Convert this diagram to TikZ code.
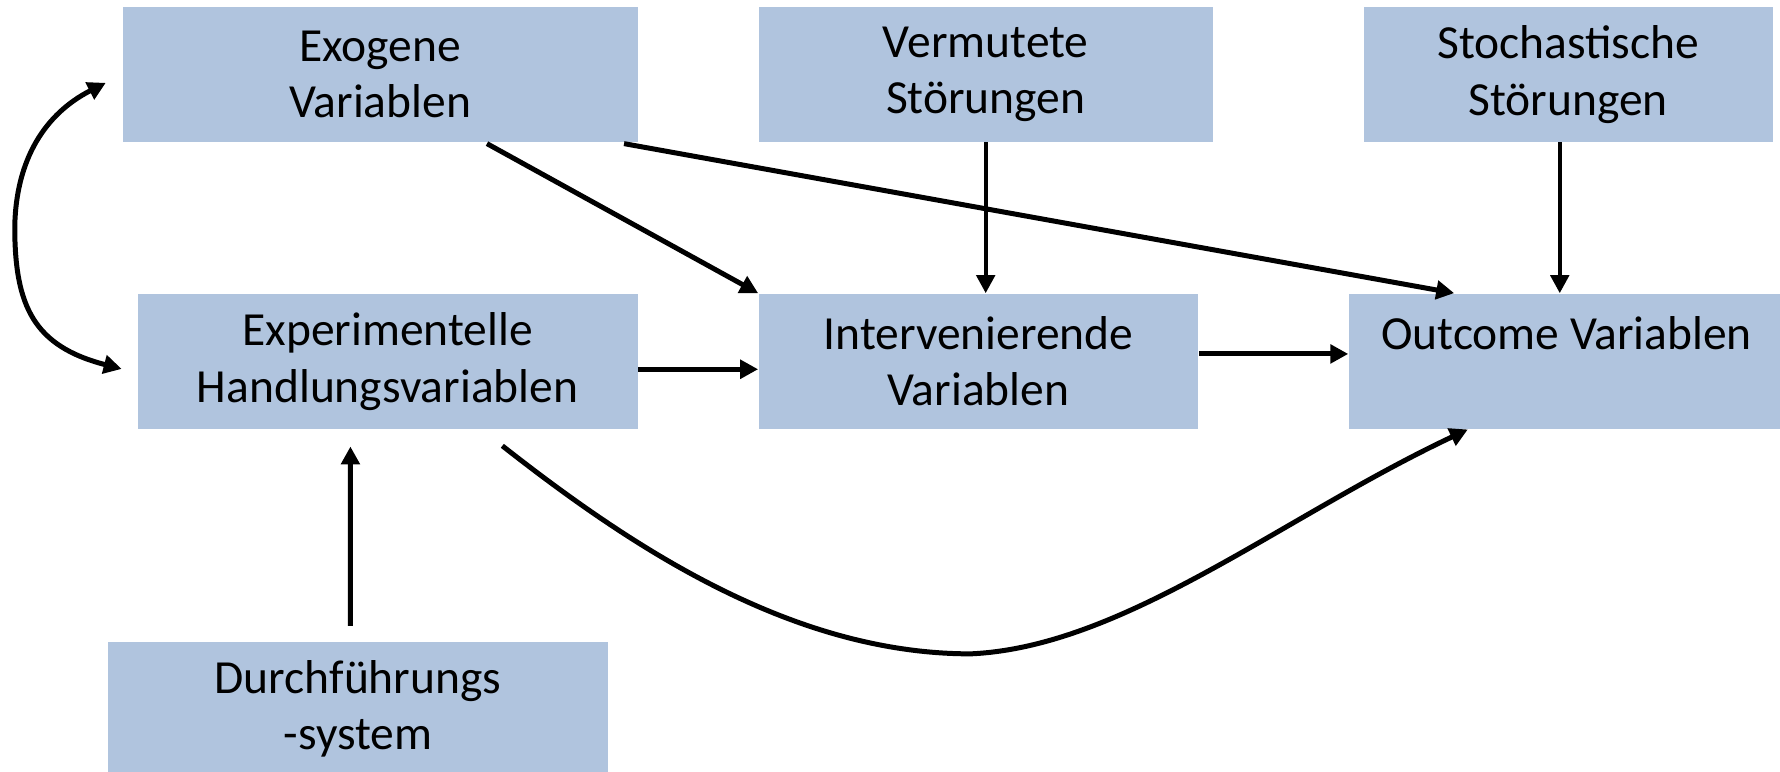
\documentclass[tikz,border=0pt]{standalone}
\usepackage{fontspec}
\setmainfont{Carlito}
\usetikzlibrary{arrows.meta,calc}
\definecolor{boxfill}{RGB}{176,196,222}
\tikzset{
  vbox/.style={fill=boxfill, draw=none, inner sep=0pt, minimum height=1.186cm,
    align=center, font=\fontsize{11.9pt}{14.2pt}\selectfont},
  arr/.style={-{Triangle[length=4.5pt,width=4.6pt]}, line width=1.25pt, black},
  thinarr/.style={arr, line width=0.95pt},
  dblarr/.style={{Triangle[length=4.5pt,width=4.6pt]}-{Triangle[length=4.5pt,width=4.6pt]}, line width=1.25pt, black}
}
\begin{document}
\begin{tikzpicture}[x=0.01cm,y=-0.01cm]
\useasboundingbox (0,0) rectangle (1568,680);
% boxes
\node[vbox, minimum width=4.53cm]  (exo)   at (335,65.5)   {Exogene\\Variablen};
\node[vbox, minimum width=3.994cm] (verm)  at (868.3,65.5) {Vermutete\\Störungen};
\node[vbox, minimum width=3.60cm]  (stoch) at (1381.5,65.5){Stochastische\\Störungen};
\node[vbox, minimum width=4.40cm]  (exp)   at (341.5,318.3){Experimentelle\\Handlungsvariablen};
\node[vbox, minimum width=3.867cm] (int)   at (862,318.3)  {Intervenierende\\Variablen};
\node[vbox, minimum width=3.83cm]  (out)   at (1380,318.3) {Outcome Variablen\\\phantom{V}};
\node[vbox, minimum width=4.404cm, minimum height=1.18cm] (durch) at (315.4,624.5) {Durchführungs\\-system};
% connectors
\draw[arr] ([shift={(0,7)}]exp.east) -- ([shift={(0,7)}]int.west);
\draw[arr] ([shift={(0,-6.5)}]int.east) -- ([shift={(0,-6.5)}]out.west);
\draw[arr] ([shift={(94,1)}]exo.south) -- (int.north west);
\draw[arr] ([shift={(-12.6,1)}]exo.south east) -- ([shift={(-99,0)}]out.north);
\draw[thinarr] (verm.south) -- (verm.south |- int.north);
\draw[thinarr] ([xshift=-0.075cm]stoch.south) -- ([xshift=-0.075cm]stoch.south |- out.north);
\draw[arr, shorten >=0.15cm] ([shift={(-6.7,-13.5)}]durch.north) -- ([xshift=-0.067cm]durch.north |- exp.south);
\draw[arr] ([shift={(101,14.4)}]exp.south) .. controls (560,485) and (700,576) .. (855,576)
  .. controls (990,570) and (1130,455) .. ([shift={(-87,0)}]out.south);
\draw[dblarr] ([shift={(-14.5,7.5)}]exo.west) .. controls (40,100) and (14,140) .. (13,200)
  .. controls (13,270) and (30,305) .. ([shift={(-13.5,6.7)}]exp.west);
\end{tikzpicture}
\end{document}
